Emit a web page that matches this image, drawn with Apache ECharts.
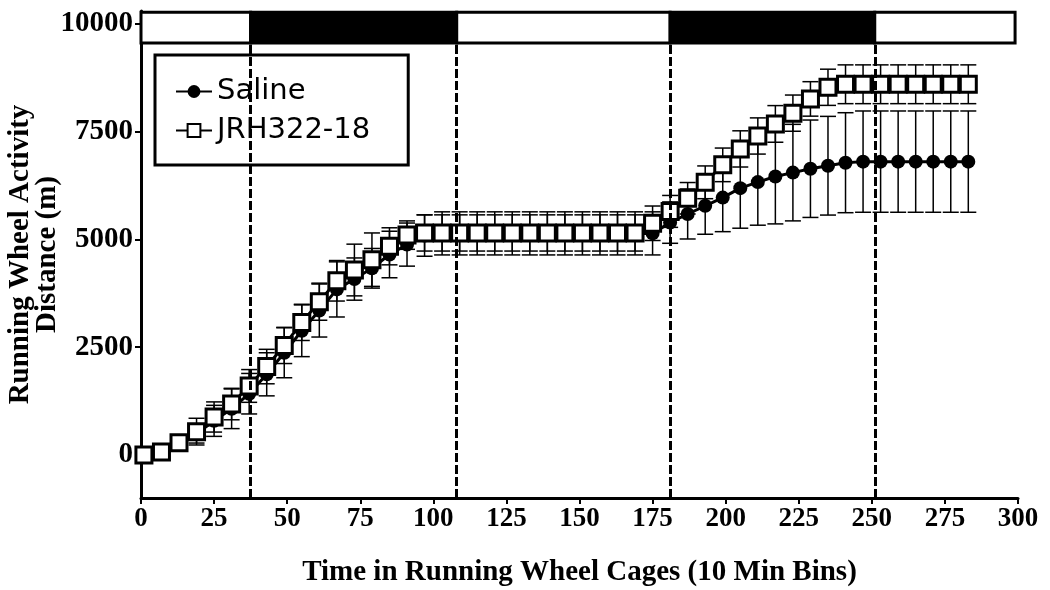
<!DOCTYPE html>
<html>
<head>
<meta charset="utf-8">
<script src="https://cdn.jsdelivr.net/npm/echarts@6/dist/echarts.min.js"></script>
<style>
html,body{margin:0;padding:0;background:#fff;}
#chart{width:1050px;height:590px;}
</style>
</head>
<body>
<div id="chart"></div>
<script>
// ---- data ----
const timeBins = [1,7,13,19,25,31,37,43,49,55,61,67,73,79,85,91,97,103,109,115,121,127,133,139,145,151,157,163,169,175,181,187,193,199,205,211,217,223,229,235,241,247,253,259,265,271,277,283];
const salineMean = [0,55,250,490,790,1070,1420,1870,2370,2880,3350,3840,4080,4330,4650,4880,5090,5140,5140,5140,5140,5140,5140,5140,5140,5140,5140,5140,5140,5140,5390,5590,5780,5970,6190,6330,6460,6550,6640,6710,6780,6805,6805,6805,6805,6805,6805,6805];
const salineSem = [0,30,60,215,360,460,470,500,580,600,615,640,490,460,540,500,480,500,500,500,500,500,500,500,500,500,500,500,500,500,480,580,660,790,930,1000,1100,1120,1130,1145,1160,1175,1175,1175,1175,1175,1175,1175];
const jrhMean = [0,70,280,540,880,1180,1600,2050,2540,3075,3555,4040,4290,4530,4840,5100,5150,5150,5150,5150,5150,5150,5150,5150,5150,5150,5150,5150,5150,5375,5650,5955,6325,6730,7100,7400,7680,7930,8260,8530,8600,8600,8600,8600,8600,8600,8600,8600];
const jrhSem = [0,40,120,310,350,365,380,400,420,420,430,470,600,620,430,330,420,420,420,420,420,420,420,420,420,420,420,420,420,400,370,365,380,390,420,420,425,420,400,420,450,450,450,450,450,450,450,450];
const yTickValues = [0,2500,5000,7500,10000];
const phaseBounds = [0,37.5,108,181,251,299];   // light/dark phase boundaries
const phaseDark = [false,true,false,true,false];
const dividerLines = [37.5,108,181,251];
const seriesNames = ['Saline','JRH322-18'];

const chart = echarts.init(document.getElementById('chart'));
const serif = 'Liberation Serif';

function errData(mean, sem){ return timeBins.map((x,i)=>[x, mean[i], sem[i]]); }
function errRender(params, api){
  const x = api.value(0), y = api.value(1), e = api.value(2);
  const lo = api.coord([x, y - e]), hi = api.coord([x, y + e]);
  const hw = 8;
  const st = {stroke:'#000', lineWidth:1.5};
  return {type:'group', children:[
    {type:'line', shape:{x1:lo[0],y1:lo[1],x2:hi[0],y2:hi[1]}, style:st},
    {type:'line', shape:{x1:lo[0]-hw,y1:lo[1],x2:lo[0]+hw,y2:lo[1]}, style:st},
    {type:'line', shape:{x1:hi[0]-hw,y1:hi[1],x2:hi[0]+hw,y2:hi[1]}, style:st}
  ]};
}

const phaseAreas = [];
for (let i=0;i<phaseDark.length;i++){
  phaseAreas.push([
    {xAxis:phaseBounds[i], yAxis:9560, itemStyle:{color: phaseDark[i] ? '#000' : '#fff', borderColor:'#000', borderWidth:3}},
    {xAxis:phaseBounds[i+1], yAxis:10270}
  ]);
}
const dividers = dividerLines.map(v=>[{coord:[v,-1000]},{coord:[v,9560]}]);

chart.setOption({
  animation:false,
  backgroundColor:'#fff',
  grid:{left:141, right:32, top:11, bottom:92, containLabel:false, outerBoundsMode:'none'},
  legend:{
    data:seriesNames,
    orient:'vertical',
    left:155, top:55,
    borderColor:'#000', borderWidth:3,
    padding:[22,38,20,20],
    itemGap:10,
    itemWidth:36, itemHeight:16,
    textStyle:{fontFamily:'DejaVu Sans', fontSize:29, color:'#000'}
  },
  xAxis:{
    type:'value', min:0, max:300, interval:25,
    name:'Time in Running Wheel Cages (10 Min Bins)',
    nameLocation:'middle', nameGap:60, nameMoveOverlap:false,
    nameTextStyle:{fontFamily:serif, fontWeight:'bold', fontSize:29, color:'#000'},
    axisLine:{show:true, onZero:false, lineStyle:{color:'#000', width:3}},
    axisTick:{show:true, length:6, lineStyle:{color:'#000', width:2}},
    axisLabel:{fontFamily:serif, fontWeight:'bold', fontSize:27, color:'#000', margin:8},
    splitLine:{show:false}
  },
  yAxis:{
    type:'value', min:-1000, max:10300,
    name:'Running Wheel Activity\nDistance (m)',
    nameLocation:'middle', nameGap:80, nameRotate:90, nameMoveOverlap:false,
    nameTextStyle:{fontFamily:serif, fontWeight:'bold', fontSize:29, color:'#000', lineHeight:27},
    axisLine:{show:true, onZero:false, lineStyle:{color:'#000', width:3}},
    axisTick:{show:true, length:6, customValues:yTickValues, lineStyle:{color:'#000', width:2}},
    axisLabel:{fontFamily:serif, fontWeight:'bold', fontSize:29, color:'#000', margin:8, customValues:yTickValues,
      formatter:function(v){ return String(v); }},
    splitLine:{show:false}
  },
  series:[
    {
      type:'line', data:[], silent:true, z:1,
      markLine:{silent:true, symbol:['none','none'], label:{show:false},
        lineStyle:{color:'#000', width:3, type:[9,3]}, data:dividers},
      markArea:{silent:true, data:phaseAreas}
    },
    {type:'custom', name:'Saline SEM', renderItem:errRender, data:errData(salineMean, salineSem), z:2, silent:true},
    {type:'custom', name:'JRH SEM', renderItem:errRender, data:errData(jrhMean, jrhSem), z:2, silent:true},
    {
      type:'line', name:'Saline', z:3,
      data:timeBins.map((x,i)=>[x, salineMean[i]]),
      symbol:'circle', symbolSize:14,
      lineStyle:{color:'#000', width:3},
      itemStyle:{color:'#000', borderColor:'#000', borderWidth:0}
    },
    {
      type:'line', name:'JRH322-18', z:4,
      data:timeBins.map((x,i)=>[x, jrhMean[i]]),
      symbol:'rect', symbolSize:16,
      lineStyle:{color:'#000', width:3},
      itemStyle:{color:'#fff', borderColor:'#000', borderWidth:3}
    }
  ]
});
</script>
</body>
</html>
